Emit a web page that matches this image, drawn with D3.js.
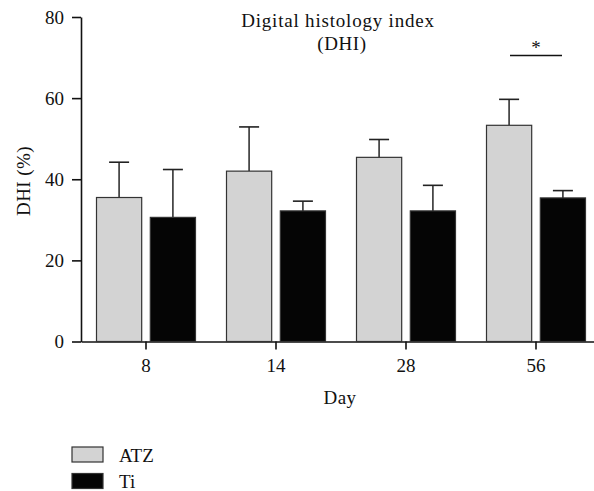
<!DOCTYPE html>
<html>
<head>
<meta charset="utf-8">
<script src="https://cdn.jsdelivr.net/npm/d3@7"></script>
<style>
  body { margin: 0; background: #fff; }
  text { font-family: "Liberation Serif", "DejaVu Serif", serif; fill: #111; }
</style>
</head>
<body>
<script>
var days = ["8", "14", "28", "56"];
var groups = ["ATZ", "Ti"];
var atzMean = [35.5, 42.0, 45.4, 53.3];
var atzErr = [44.2, 52.9, 49.8, 59.7];
var tiMean = [30.6, 32.2, 32.2, 35.4];
var tiErr = [42.4, 34.6, 38.5, 37.2];
var yTicks = [0, 20, 40, 60, 80];
var signif = { day: "56", value: 70.5, label: "*" };

var couleurs = { ATZ: "#d3d3d3", Ti: "#050505" };

var rows = [];
days.forEach(function(d, i) {
  rows.push({ day: d, grp: "ATZ", mean: atzMean[i], err: atzErr[i] });
  rows.push({ day: d, grp: "Ti", mean: tiMean[i], err: tiErr[i] });
});

var width = 594, height = 491;
var svg = d3.select("body").append("svg")
  .attr("width", width)
  .attr("height", height);

var echelleX = d3.scaleBand().domain(days).range([81, 601]);
var echelleG = d3.scaleBand().domain(groups).range([15.5, 114.5]).paddingInner(0.16);
var echelleY = d3.scaleLinear().domain([0, 80]).range([341.5, 17]);

// axes
var axeY = d3.axisLeft(echelleY).tickValues(yTicks).tickSize(9).tickSizeOuter(0).tickPadding(8);
var gY = svg.append("g").attr("transform", "translate(81,0)").call(axeY);
gY.selectAll("text").style("font-size", "19px").attr("dy", "0.34em");

var axeX = d3.axisBottom(echelleX).tickSize(8).tickSizeOuter(0).tickPadding(9);
var gX = svg.append("g").attr("transform", "translate(0,341.5)").call(axeX);
gX.selectAll("text").style("font-size", "19px");

svg.selectAll(".domain, .tick line").attr("stroke", "#111").attr("stroke-width", 1.6);

// barres
var barres = svg.append("g").selectAll("g").data(rows).enter().append("g")
  .attr("transform", function(d) { return "translate(" + echelleX(d.day) + ",0)"; });

barres.append("line")
  .attr("x1", function(d) { return echelleG(d.grp) + echelleG.bandwidth() / 2; })
  .attr("x2", function(d) { return echelleG(d.grp) + echelleG.bandwidth() / 2; })
  .attr("y1", function(d) { return echelleY(d.mean); })
  .attr("y2", function(d) { return echelleY(d.err); })
  .attr("stroke", "#333").attr("stroke-width", 1.6);

barres.append("line")
  .attr("x1", function(d) { return echelleG(d.grp) + echelleG.bandwidth() / 2 - 10; })
  .attr("x2", function(d) { return echelleG(d.grp) + echelleG.bandwidth() / 2 + 10; })
  .attr("y1", function(d) { return echelleY(d.err); })
  .attr("y2", function(d) { return echelleY(d.err); })
  .attr("stroke", "#222").attr("stroke-width", 1.6);

barres.append("rect")
  .attr("x", function(d) { return echelleG(d.grp); })
  .attr("y", function(d) { return echelleY(d.mean); })
  .attr("width", echelleG.bandwidth())
  .attr("height", function(d) { return echelleY(0) - echelleY(d.mean); })
  .attr("fill", function(d) { return couleurs[d.grp]; })
  .attr("stroke", "#333").attr("stroke-width", 1.2);

// significativite
var sx = echelleX(signif.day) + echelleX.bandwidth() / 2;
svg.append("line")
  .attr("x1", sx - 26).attr("x2", sx + 26)
  .attr("y1", echelleY(signif.value)).attr("y2", echelleY(signif.value))
  .attr("stroke", "#111").attr("stroke-width", 1.4);
svg.append("text")
  .attr("x", sx).attr("y", echelleY(signif.value) - 2)
  .attr("text-anchor", "middle").style("font-size", "19px")
  .text(signif.label);

// titres
svg.append("text").attr("x", 338).attr("y", 26.5).attr("text-anchor", "middle")
  .style("font-size", "19px").style("letter-spacing", "0.8px").text("Digital histology index");
svg.append("text").attr("x", 342).attr("y", 50).attr("text-anchor", "middle")
  .style("font-size", "19px").style("letter-spacing", "0.6px").text("(DHI)");

svg.append("text").attr("x", 340).attr("y", 404).attr("text-anchor", "middle")
  .style("font-size", "19px").style("letter-spacing", "0.5px").text("Day");

svg.append("text")
  .attr("transform", "translate(30,181) rotate(-90)")
  .attr("text-anchor", "middle")
  .style("font-size", "19px").style("letter-spacing", "0.4px").text("DHI (%)");

// legende
var legende = svg.append("g").selectAll("g").data(groups).enter().append("g")
  .attr("transform", function(d, i) { return "translate(72," + (447 + i * 26.5) + ")"; });
legende.append("rect")
  .attr("width", 31).attr("height", 15)
  .attr("fill", function(d) { return couleurs[d]; })
  .attr("stroke", "#333").attr("stroke-width", 1.2);
legende.append("text")
  .attr("x", 47).attr("y", 14.7)
  .style("font-size", "19px")
  .text(function(d) { return d; });
</script>
</body>
</html>
